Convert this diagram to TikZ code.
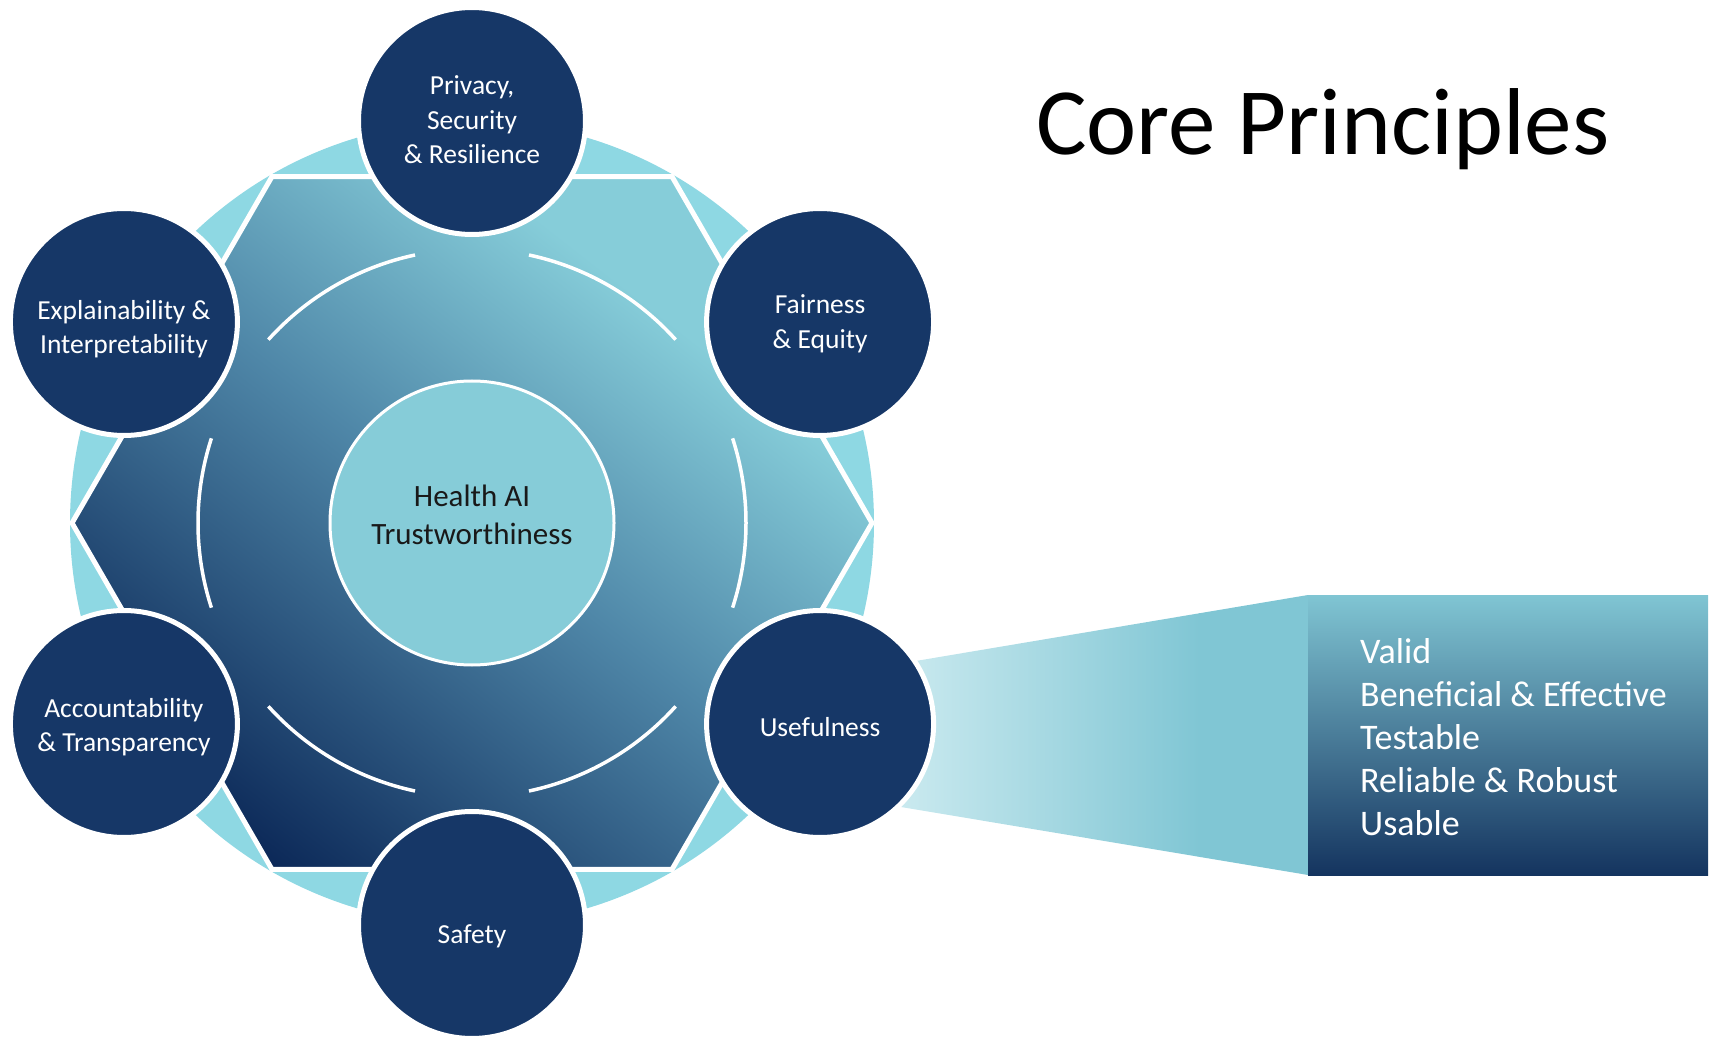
\documentclass[tikz,border=0pt]{standalone}
\usepackage{fontspec}
\setmainfont{Carlito}
\usetikzlibrary{calc}
\definecolor{navy}{HTML}{163767}
\definecolor{cyanring}{HTML}{8ED8E3}
\definecolor{centerfill}{HTML}{86CCD8}
\definecolor{hexdark}{HTML}{0A2656}
\definecolor{hexmid}{HTML}{4F87A8}
\definecolor{hexlight}{HTML}{86CDD9}
\definecolor{boxtop}{HTML}{80C5D3}
\definecolor{boxbot}{HTML}{14345F}
\definecolor{trapl}{HTML}{CFECF1}
\definecolor{trapr}{HTML}{80C6D4}
\pgfdeclareverticalshading{hexgrad}{100bp}{color(0bp)=(hexdark); color(26bp)=(hexdark); color(50bp)=(hexmid); color(66.7bp)=(hexlight); color(100bp)=(hexlight)}
\tikzset{
  sat/.style={circle, fill=navy, draw=white, line width=5pt, minimum size=227pt, inner sep=0pt},
  sattext/.style={inner sep=0pt, text=white, align=center, font=\fontsize{27.5}{34.5}\selectfont},
  arcline/.style={draw=white, line width=3.5pt},
  listitem/.style={anchor=base west, inner sep=0pt, text=white, font=\fontsize{36}{43}\selectfont},
}
\begin{document}
\begin{tikzpicture}[x=1pt, y=-1pt]
\useasboundingbox (0,0) rectangle (1714,1040);
\coordinate (O) at (472,523);

% callout trapezoid
\coordinate (ta) at (880,667);
\coordinate (tb) at (1308,595);
\coordinate (tc) at (1308,875);
\coordinate (td) at (880,803.5);
\begin{scope}
  \clip (ta) -- (tb) -- (tc) -- (td) -- cycle;
  \shade[left color=trapl, right color=trapr] (880,590) rectangle (1200,880);
  \fill[trapr] (1199,590) rectangle (1310,880);
\end{scope}

% right box
\node[anchor=north west, minimum width=400pt, minimum height=280pt, inner sep=0pt,
      top color=boxtop, bottom color=boxbot] (box) at (1308,595) {};
\foreach \t [count=\i] in {Valid, Beneficial \& Effective, Testable, Reliable \& Robust, Usable}{
  \node[listitem] (item\i) at (1360,{663+(\i-1)*43}) {\t};
}

% title
\node[anchor=base west, inner sep=0pt, font=\fontsize{95}{110}\selectfont, text=black] (title) at (1036,155) {Core Principles};

% cyan ring
\fill[cyanring] (O) circle[radius=402pt];

% hexagon
\coordinate (h0) at (872,523);
\coordinate (h1) at (672,176.6);
\coordinate (h2) at (272,176.6);
\coordinate (h3) at (72,523);
\coordinate (h4) at (272,869.4);
\coordinate (h5) at (672,869.4);
\begin{scope}
  \clip (h0) -- (h1) -- (h2) -- (h3) -- (h4) -- (h5) -- cycle;
  \begin{scope}[transform canvas={rotate around={-38:(O)}}]
    \shade[shading=hexgrad] ($(O)+(-420,-420)$) rectangle ($(O)+(420,420)$);
  \end{scope}
\end{scope}
\draw[white, line width=5pt] (h0) -- (h1) -- (h2) -- (h3) -- (h4) -- (h5) -- cycle;

% inner arcs
\foreach \a in {0,60,120,180,240,300}{
  \draw[arcline] ($(O)+({-\a+18}:274)$) arc[start angle={-\a+18}, end angle={-\a-18}, radius=274];
}

% core circle
\node[circle, fill=centerfill, draw=white, line width=3pt, minimum size=284pt, inner sep=0pt] (core) at (O) {};
\node[inner sep=0pt, align=center, text=black!90, font=\fontsize{31}{37.5}\selectfont] (coretext) at ($(core.center)+(0,-8)$) {Health AI\\Trustworthiness};

% satellites
\node[sat] (priv) at (472,121) {};
\node[sat] (fair) at (820.1,322) {};
\node[sat] (usef) at (820.1,724) {};
\node[sat] (safe) at (472,925) {};
\node[sat] (acc) at (123.9,724) {};
\node[sat] (expl) at (123.9,322) {};

\node[sattext] (privtext) at ($(priv.center)+(0,-1)$) {Privacy,\\Security\\\& Resilience};
\node[sattext] (fairtext) at ($(fair.center)+(0,2)$) {Fairness\\\& Equity};
\node[sattext] (useftext) at ($(usef.center)+(0,3)$) {Usefulness};
\node[sattext] (safetext) at ($(safe.center)+(0,11)$) {Safety};
\node[sattext] (acctext) at ($(acc.center)+(0,3)$) {Accountability\\\& Transparency};
\node[sattext] (expltext) at ($(expl.center)+(0,7)$) {Explainability \&\\Interpretability};
\end{tikzpicture}
\end{document}
